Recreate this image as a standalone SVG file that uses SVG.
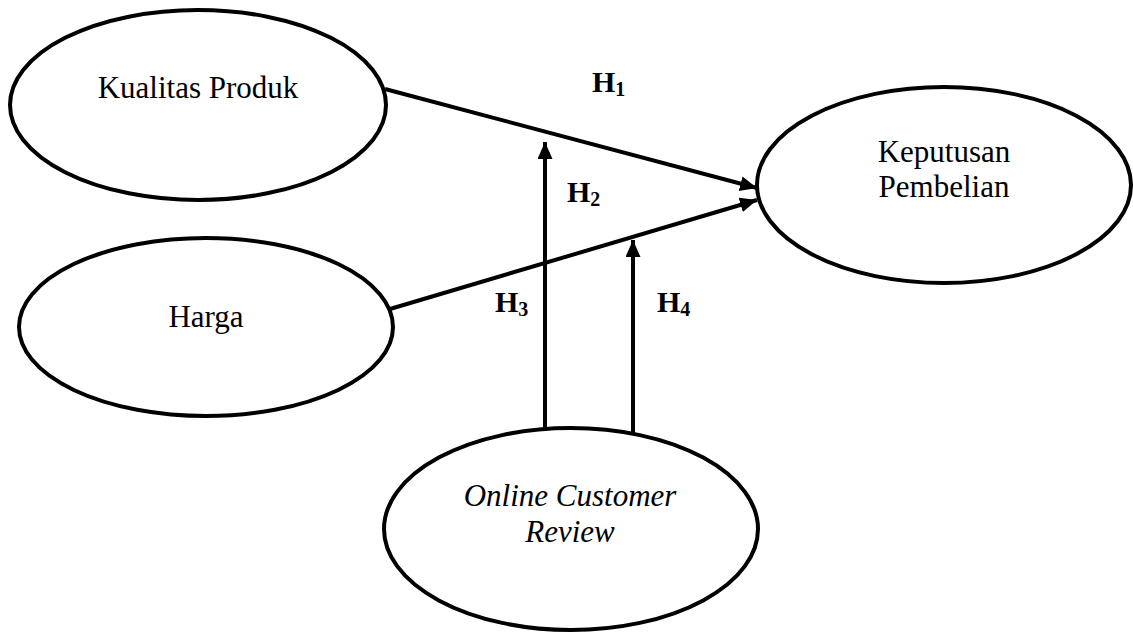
<svg xmlns="http://www.w3.org/2000/svg" width="1133" height="632" viewBox="0 0 1133 632">
<style>
.node ellipse{fill:#fff;stroke:#000;stroke-width:4}
.lbl{font-family:"Liberation Serif","Times New Roman",serif;font-size:31px;fill:#000;text-anchor:middle}
.it{font-style:italic}
.h{font-family:"Liberation Serif","Times New Roman",serif;font-size:30px;font-weight:bold;fill:#000}
.sub{font-size:20px}
#connectors line{stroke:#000;stroke-width:4;fill:none}
</style>
<defs>
<marker id="arr" markerUnits="userSpaceOnUse" markerWidth="18" markerHeight="16" refX="17" refY="7.5" orient="auto">
<path d="M0,0 L17,7.5 L0,15 z" fill="#000"/>
</marker>
</defs>
<rect width="1133" height="632" fill="#fff"/>
<g id="connectors">
<line x1="385" y1="89" x2="757" y2="188" marker-end="url(#arr)"/>
<line x1="390" y1="309" x2="757" y2="200" marker-end="url(#arr)"/>
<line x1="545" y1="430" x2="545" y2="142" marker-end="url(#arr)"/>
<line x1="633" y1="438" x2="633" y2="240" marker-end="url(#arr)"/>
</g>
<g id="kualitas" class="node">
<ellipse cx="198" cy="105" rx="188" ry="95"/>
<text class="lbl" x="198" y="98">Kualitas Produk</text>
</g>
<g id="harga" class="node">
<ellipse cx="206" cy="327" rx="187" ry="89"/>
<text class="lbl" x="206" y="327">Harga</text>
</g>
<g id="keputusan" class="node">
<ellipse cx="944" cy="185" rx="187" ry="98"/>
<text class="lbl" x="944" y="162">Keputusan</text>
<text class="lbl" x="944" y="197">Pembelian</text>
</g>
<g id="ocr" class="node">
<ellipse cx="571" cy="529" rx="187" ry="101"/>
<text class="lbl it" x="570" y="506">Online Customer</text>
<text class="lbl it" x="570" y="542">Review</text>
</g>
<g id="labels">
<text class="h" x="592" y="92">H<tspan class="sub" dy="4">1</tspan></text>
<text class="h" x="567" y="202">H<tspan class="sub" dy="4">2</tspan></text>
<text class="h" x="495" y="312">H<tspan class="sub" dy="4">3</tspan></text>
<text class="h" x="657" y="312">H<tspan class="sub" dy="4">4</tspan></text>
</g>
</svg>
